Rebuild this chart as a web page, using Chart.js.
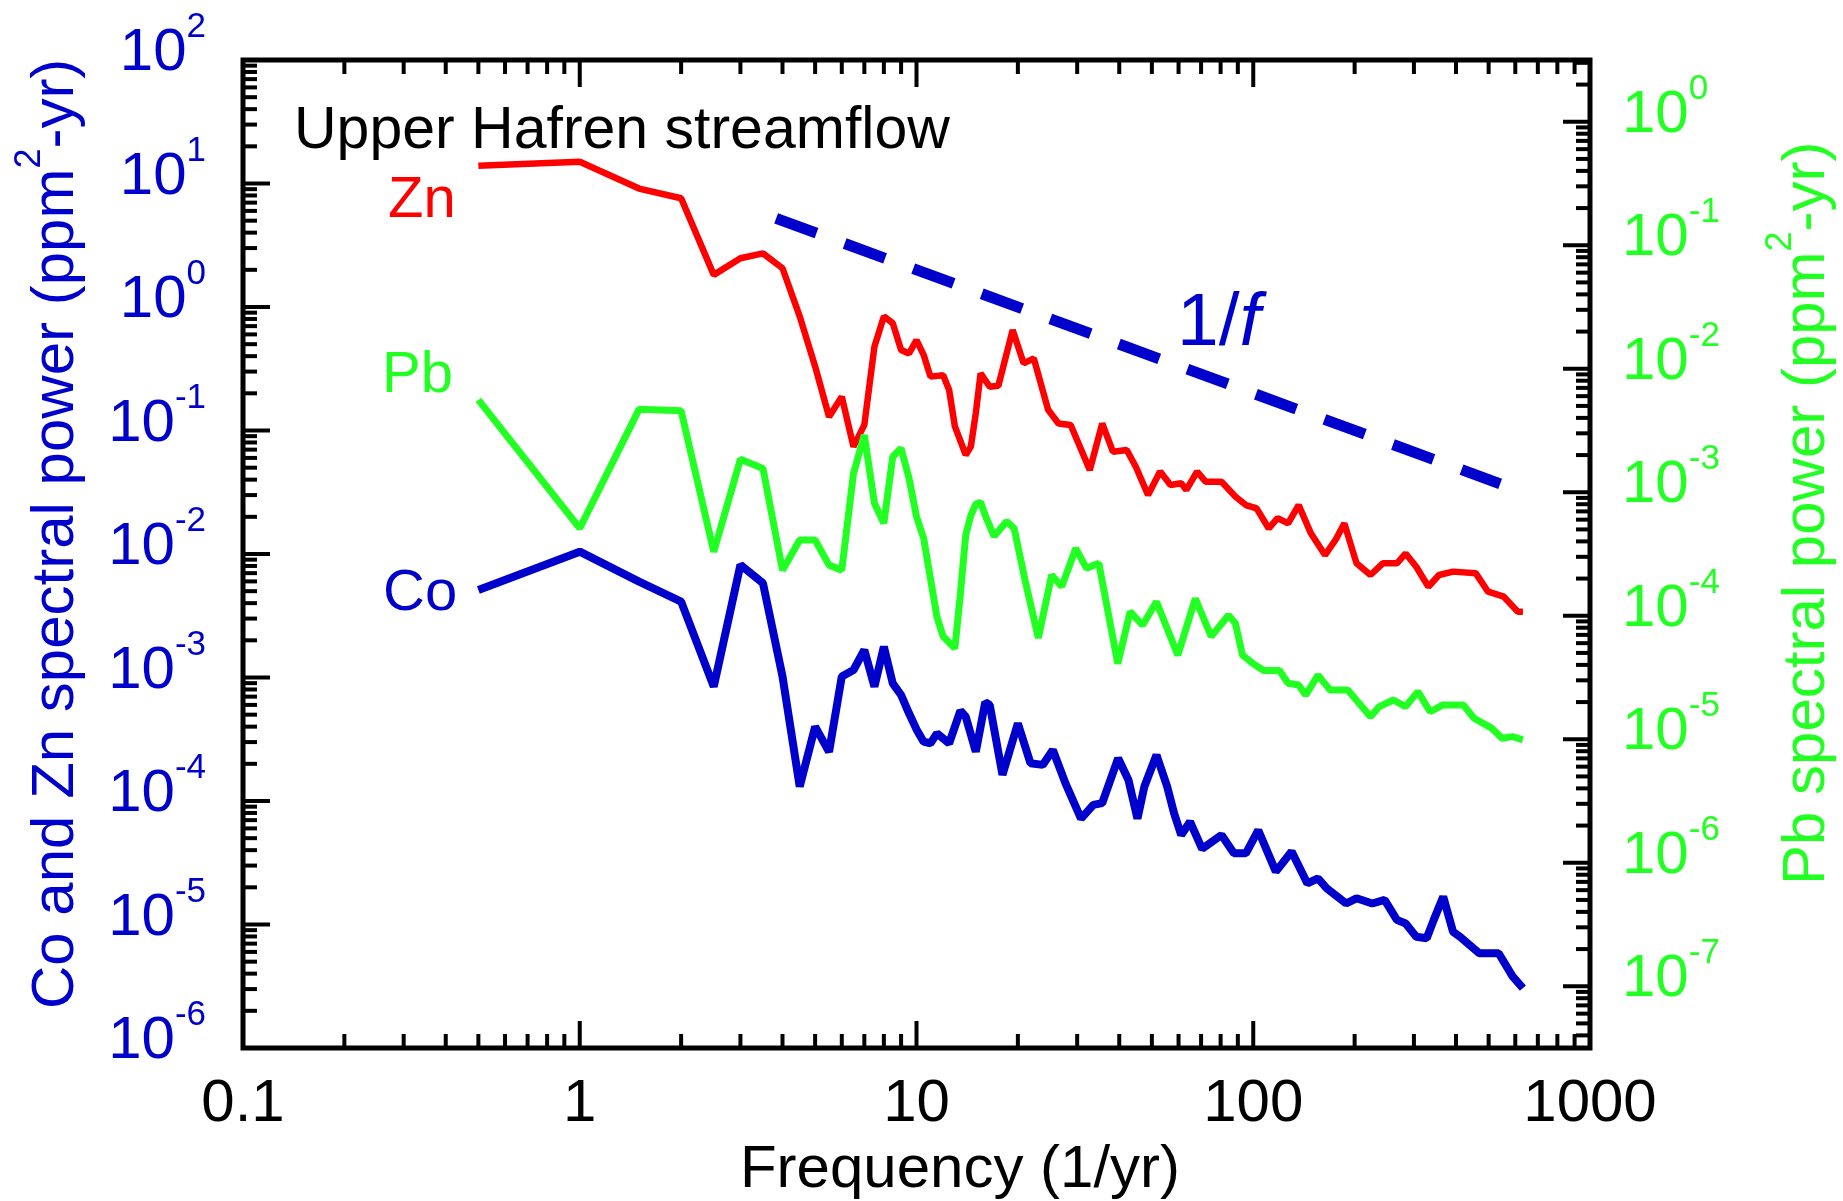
<!DOCTYPE html>
<html>
<head>
<meta charset="utf-8">
<title>Upper Hafren streamflow spectra</title>
<script src="https://cdn.jsdelivr.net/npm/chart.js@4.4.1/dist/chart.umd.min.js"></script>
<style>
  html, body { margin: 0; padding: 0; background: #fff; }
  #chart { display: block; }
</style>
</head>
<body>
<canvas id="chart" width="1843" height="1201"></canvas>
<script>
// spectral power, frequency in 1/yr
var znFreq = [0.5, 1, 1.5, 2, 2.5, 3, 3.5, 4, 4.5, 5, 5.5, 6, 6.5, 7, 7.5, 8, 8.5, 9, 9.5, 10,
  10.5, 11, 12, 12.5, 13, 14, 14.5, 15, 15.5, 16.5, 17.5, 19.3, 20.8, 22.3, 24.6, 26.4, 28.7,
  32.7, 35.6, 38.3, 42.1, 44.8, 48.7, 52.9, 56.8, 61.1, 63.3, 68.1, 72.2, 80.5, 88.6, 95.1,
  102.3, 111.2, 118.1, 126.9, 136.4, 148.3, 163.3, 175.5, 186.4, 202.6, 222.9, 242.5, 267.1,
  283.5, 304.8, 331.2, 356.1, 391.9, 458.1, 498, 554.6, 610.6, 632];
var znPower = [13.9, 15.0, 9.1, 7.6, 1.82, 2.48, 2.72, 2.06, 0.84, 0.33, 0.129, 0.188, 0.074, 0.111,
  0.477, 0.84, 0.74, 0.449, 0.42, 0.54, 0.41, 0.273, 0.28, 0.213, 0.108, 0.0634, 0.074, 0.138,
  0.29, 0.226, 0.23, 0.652, 0.35, 0.384, 0.147, 0.114, 0.111, 0.0478, 0.114, 0.0674, 0.0695,
  0.0509, 0.030, 0.0465, 0.0362, 0.0374, 0.033, 0.0465, 0.0385, 0.0385, 0.0291, 0.0249, 0.0234,
  0.0161, 0.0195, 0.0177, 0.0249, 0.0147, 0.0098, 0.0130, 0.0177, 0.0084, 0.00676, 0.0084,
  0.0084, 0.0101, 0.00789, 0.00543, 0.00676, 0.0072, 0.00697, 0.00495, 0.00451, 0.00341, 0.00341];

var pbFreq = [0.5, 1, 1.5, 2, 2.5, 3, 3.5, 4, 4.5, 5, 5.5, 6, 6.5, 7, 7.5, 8, 8.5, 9, 9.5, 10,
  10.5, 11.5, 12, 13, 13.5, 14, 14.5, 15, 15.5, 16, 17, 18.5, 19.5, 21, 23, 25.2, 27, 29.7, 32,
  34.8, 39.6, 43.1, 46.9, 51.6, 59.7, 67.3, 75, 84.4, 88.5, 92.9, 99.8, 107.4, 119.6, 126.9,
  136.4, 143.1, 155.7, 169.2, 190.9, 223, 236.8, 260.6, 283.5, 308.3, 335.3, 364.7, 421, 452.5,
  510.6, 548, 589, 632];
var pbPower = [0.00559, 0.000511, 0.00469, 0.00457, 0.00033, 0.00185, 0.00156, 0.000234, 0.00041,
  0.00041, 0.000257, 0.000234, 0.00142, 0.00291, 0.000815, 0.000561, 0.00194, 0.00227, 0.0013,
  0.000634, 0.000424, 0.000098, 0.000068, 0.0000545, 0.00015, 0.00045, 0.00065, 0.0008, 0.00083,
  0.00065, 0.00044, 0.00058, 0.00051, 0.000195, 0.000066, 0.000214, 0.000172, 0.00035, 0.000242,
  0.000266, 0.000041, 0.000108, 0.000084, 0.00013, 0.000048, 0.000138, 0.000068, 0.000101,
  0.000087, 0.000048, 0.000041, 0.000036, 0.000036, 0.0000284, 0.0000275, 0.0000228, 0.000033,
  0.000025, 0.000025, 0.0000152, 0.0000184, 0.0000208, 0.0000184, 0.0000243, 0.0000167,
  0.0000189, 0.0000189, 0.0000148, 0.0000123, 0.0000102, 0.0000105, 0.0000099];

var coFreq = [0.5, 1, 1.5, 2, 2.5, 3, 3.5, 4, 4.5, 5, 5.5, 6, 6.5, 7, 7.5, 8, 8.5, 9, 9.5, 10,
  10.5, 11, 11.5, 12.5, 13.5, 14, 15, 16, 16.5, 18, 20, 21.8, 23.7, 25.4, 27.7, 30.8, 33.5, 35.6,
  39.7, 42.6, 45.3, 47.5, 51.6, 55.5, 58.2, 61.1, 64.9, 70.5, 80.5, 87.6, 95.1, 103.5, 116.7,
  130, 144.8, 155.7, 165.3, 188.6, 202.6, 225.7, 245.5, 267, 283.5, 304.8, 327.4, 343.6, 366.5,
  391.9, 411, 469, 535.4, 589, 632];
var coPower = [0.00512, 0.01045, 0.00597, 0.00411, 0.000843, 0.00815, 0.0058, 0.00102, 0.000131,
  0.0004, 0.00025, 0.00102, 0.00115, 0.00167, 0.000843, 0.00178, 0.000897, 0.000722, 0.000513,
  0.00038, 0.000302, 0.000293, 0.000353, 0.000293, 0.000538, 0.000482, 0.000251, 0.00063, 0.0006,
  0.000163, 0.000425, 0.000202, 0.000196, 0.000259, 0.000139, 0.000072, 0.000093, 0.000096,
  0.000222, 0.000148, 0.000072, 0.000131, 0.000236, 0.000131, 0.0000796, 0.000053, 0.000068,
  0.000041, 0.000053, 0.0000377, 0.0000377, 0.000058, 0.0000268, 0.000039, 0.0000215, 0.0000236,
  0.0000196, 0.0000148, 0.0000163, 0.0000148, 0.0000158, 0.0000109, 0.0000102, 0.00000797,
  0.00000774, 0.0000109, 0.0000168, 0.00000875, 0.00000797, 0.00000585, 0.00000585, 0.0000038,
  0.00000305];

// the dashed 1/f guide
var fitFreq = [3.83, 541];
var fitPower = [5.22, 0.037];

var xTickValues = [0.1, 1, 10, 100, 1000];
var xTickLabels = ['0.1', '1', '10', '100', '1000'];
var leftExponents = [2, 1, 0, -1, -2, -3, -4, -5, -6];
var rightExponents = [0, -1, -2, -3, -4, -5, -6, -7];

var BLUE = '#0000cc', RED = '#ff0000', GREEN = '#22ff22';
var FONT = '"Liberation Sans", Arial, sans-serif';

function pairs(xs, ys) {
  return xs.map(function (x, i) { return { x: x, y: ys[i] }; });
}

function logTicks(min, max) {
  var out = [];
  for (var e = Math.floor(Math.log10(min)); e <= Math.ceil(Math.log10(max)); e++) {
    for (var m = 1; m <= 9; m++) {
      var v = m * Math.pow(10, e);
      if (v >= min * 0.999 && v <= max * 1.001) out.push({ v: v, major: m === 1 });
    }
  }
  return out;
}

function line(ctx, x1, y1, x2, y2) {
  ctx.beginPath();
  ctx.moveTo(x1, y1);
  ctx.lineTo(x2, y2);
  ctx.stroke();
}

// draws text runs left to right, superscript runs raised and smaller
function drawRuns(ctx, runs, x, y) {
  runs.forEach(function (r) {
    var size = r.sup ? r.size * 0.6 : r.size;
    ctx.font = (r.italic ? 'italic ' : '') + size + 'px ' + FONT;
    ctx.fillText(r.t, x, r.sup ? y - r.size * 0.55 : y);
    x += ctx.measureText(r.t).width;
  });
}

var framePlugin = {
  id: 'frame',
  afterDraw: function (chart) {
    var ctx = chart.ctx, a = chart.chartArea;
    var sx = chart.scales.x, sy = chart.scales.y, sy2 = chart.scales.y2;
    ctx.save();
    ctx.strokeStyle = '#000';
    ctx.lineCap = 'butt';
    ctx.lineWidth = 4;
    logTicks(sx.min, sx.max).forEach(function (t) {
      var px = sx.getPixelForValue(t.v), len = t.major ? 27 : 14;
      line(ctx, px, a.bottom, px, a.bottom - len);
      line(ctx, px, a.top, px, a.top + len);
    });
    logTicks(sy.min, sy.max).forEach(function (t) {
      var py = sy.getPixelForValue(t.v), len = t.major ? 27 : 14;
      line(ctx, a.left, py, a.left + len, py);
    });
    logTicks(sy2.min, sy2.max).forEach(function (t) {
      var py = sy2.getPixelForValue(t.v), len = t.major ? 27 : 14;
      line(ctx, a.right, py, a.right - len, py);
    });
    ctx.lineWidth = 5;
    ctx.strokeRect(a.left, a.top, a.right - a.left, a.bottom - a.top);

    ctx.textBaseline = 'alphabetic';
    // x tick labels
    ctx.fillStyle = '#000';
    ctx.font = '60px ' + FONT;
    ctx.textAlign = 'center';
    xTickValues.forEach(function (v, i) {
      ctx.fillText(xTickLabels[i], sx.getPixelForValue(v), a.bottom + 73);
    });
    ctx.fillText('Frequency (1/yr)', 960, 1187);

    // left tick labels
    ctx.fillStyle = BLUE;
    ctx.textAlign = 'right';
    leftExponents.forEach(function (e) {
      var py = sy.getPixelForValue(Math.pow(10, e));
      ctx.font = '35px ' + FONT;
      var sup = String(e), sw = ctx.measureText(sup).width;
      ctx.fillText(sup, 206, py - 23);
      ctx.font = '60px ' + FONT;
      ctx.fillText('10', 206 - sw, py + 10);
    });

    // right tick labels
    ctx.fillStyle = GREEN;
    ctx.textAlign = 'left';
    rightExponents.forEach(function (e) {
      var py = sy2.getPixelForValue(Math.pow(10, e));
      ctx.font = '60px ' + FONT;
      var w = ctx.measureText('10').width;
      ctx.fillText('10', 1622, py + 10);
      ctx.font = '35px ' + FONT;
      ctx.fillText(String(e), 1622 + w, py - 23);
    });

    // axis titles
    ctx.save();
    ctx.translate(73, 1009);
    ctx.rotate(-Math.PI / 2);
    ctx.fillStyle = BLUE;
    drawRuns(ctx, [{ t: 'Co and Zn spectral power (ppm', size: 60 }, { t: '2', size: 60, sup: true },
      { t: '-yr)', size: 60 }], 0, 0);
    ctx.restore();

    ctx.save();
    ctx.translate(1824, 885);
    ctx.rotate(-Math.PI / 2);
    ctx.fillStyle = GREEN;
    drawRuns(ctx, [{ t: 'Pb spectral power (ppm', size: 60 }, { t: '2', size: 60, sup: true },
      { t: '-yr)', size: 60 }], 0, 0);
    ctx.restore();

    // annotations
    ctx.fillStyle = '#000';
    ctx.font = '59px ' + FONT;
    ctx.fillText('Upper Hafren streamflow', 294, 148);
    ctx.font = '58px ' + FONT;
    ctx.fillStyle = RED;
    ctx.fillText('Zn', 388, 217);
    ctx.fillStyle = GREEN;
    ctx.fillText('Pb', 382, 392);
    ctx.fillStyle = BLUE;
    ctx.fillText('Co', 383, 610);
    drawRuns(ctx, [{ t: '1/', size: 75 }, { t: 'f', size: 75, italic: true }], 1177, 345);
    ctx.restore();
  }
};

function lineSet(data, color, axis, width) {
  return {
    data: data, borderColor: color, borderWidth: width, yAxisID: axis,
    pointRadius: 0, tension: 0, fill: false, borderCapStyle: 'butt', borderJoinStyle: 'bevel'
  };
}

var fitSet = lineSet(pairs(fitFreq, fitPower), BLUE, 'y', 11);
fitSet.borderDash = [43, 30];

var chart = new Chart(document.getElementById('chart').getContext('2d'), {
  type: 'line',
  data: {
    datasets: [
      fitSet,
      lineSet(pairs(pbFreq, pbPower), GREEN, 'y2', 7),
      lineSet(pairs(znFreq, znPower), RED, 'y', 6.5),
      lineSet(pairs(coFreq, coPower), BLUE, 'y', 8)
    ]
  },
  options: {
    responsive: false,
    devicePixelRatio: 1,
    animation: false,
    layout: { padding: { top: 60, left: 0, right: 0, bottom: 0 } },
    plugins: { legend: { display: false }, tooltip: { enabled: false } },
    scales: {
      x: {
        type: 'logarithmic', min: 0.1, max: 1000, bounds: 'data',
        grid: { display: false }, border: { display: false }, ticks: { display: false },
        afterFit: function (s) { s.height = 153; }
      },
      y: {
        type: 'logarithmic', position: 'left', min: 1e-6, max: 100, bounds: 'data',
        grid: { display: false }, border: { display: false }, ticks: { display: false },
        afterFit: function (s) { s.width = 243; }
      },
      y2: {
        type: 'logarithmic', position: 'right', min: Math.pow(10, -7.5), max: Math.pow(10, 0.5),
        bounds: 'data',
        grid: { display: false }, border: { display: false }, ticks: { display: false },
        afterFit: function (s) { s.width = 253; }
      }
    }
  },
  plugins: [framePlugin]
});
</script>
</body>
</html>
